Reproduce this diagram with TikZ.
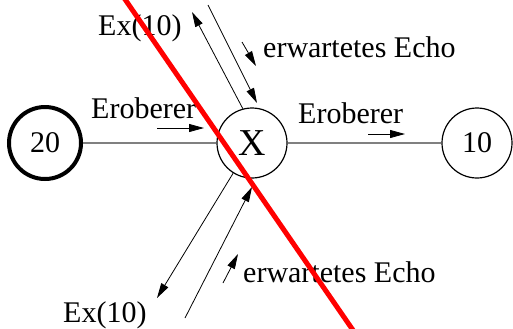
\documentclass[tikz,border=0pt]{standalone}
\usepackage{fontspec}
\setmainfont{Liberation Serif}
\usetikzlibrary{arrows.meta}
\begin{document}
\begin{tikzpicture}[x=1bp,y=-1bp,
  lbl/.style={font=\fontsize{30bp}{36bp}\selectfont, inner sep=0pt, anchor=base west},
  state/.style={circle, draw, line width=1.2bp, minimum size=70bp, inner sep=0pt, font=\fontsize{30bp}{36bp}\selectfont},
  msg/.style={line width=0.8bp, -{Triangle[length=15bp,width=8bp]}},
  link/.style={draw=black!50, line width=1.6bp}]
\useasboundingbox (0,0) rectangle (513,328);
\node[state, line width=4bp, minimum size=72bp] (n20) at (45,143) {20};
\node[state, font=\fontsize{38bp}{44bp}\selectfont] (nX) at (252,143) {X};
\node[state] (n10) at (477,143) {10};
\draw[link] (n20) -- (nX);
\draw[link] (nX) -- (n10);
% labels
\node[lbl] (e1) at (91,118) {Eroberer};
\node[lbl] (e2) at (298,123) {Eroberer};
\node[lbl] (x1) at (98,35) {Ex(10)};
\node[lbl] (x2) at (63,322) {Ex(10)};
\node[lbl] (w1) at (263,57) {erwartetes Echo};
\node[lbl] (w2) at (243,282) {erwartetes Echo};
% short arrows
\coordinate (a1s) at (157,128); \coordinate (a1e) at (204,128);
\coordinate (a2s) at (368,134); \coordinate (a2e) at (405,134);
\draw[msg] (a1s) -- (a1e);
\draw[msg] (a2s) -- (a2e);
\coordinate (a3s) at (242,42); \coordinate (a3e) at (256,66);
\draw[msg] (a3s) -- (a3e);
\coordinate (a4s) at (223,283); \coordinate (a4e) at (238,254);
\draw[msg] (a4s) -- (a4e);
% long arrows
\coordinate (l1e) at (192,12);
\draw[msg] (nX.105) -- (l1e);
\coordinate (l2s) at (208,5); \coordinate (l2e) at (257,103);
\draw[msg] (l2s) -- (l2e);
\coordinate (l3e) at (157,298);
\draw[msg] (nX.238) -- (l3e);
\coordinate (l4s) at (185,318); \coordinate (l4e) at (252,187);
\draw[msg] (l4s) -- (l4e);
% red line
\begin{scope}
\clip (0,0) rectangle (513,328);
\coordinate (r1) at (120,-8); \coordinate (r2) at (357,336);
\draw[red, line width=5bp] (r1) -- (r2);
\end{scope}
\end{tikzpicture}
\end{document}
